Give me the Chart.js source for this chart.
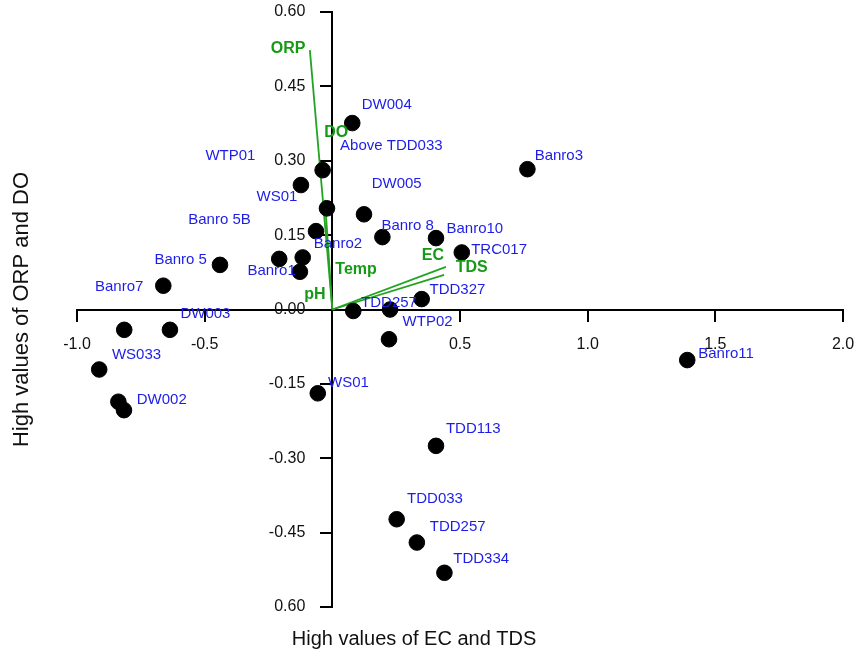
<!DOCTYPE html>
<html>
<head>
<meta charset="utf-8">
<script src="https://cdn.jsdelivr.net/npm/chart.js@4"></script>
<style>
  html, body { margin: 0; padding: 0; background: #fff; }
  #wrap { width: 856px; height: 657px; }
</style>
</head>
<body>
<div id="wrap"><canvas id="myChart" width="856" height="657"></canvas></div>
<script>
// site scores (black dots)
const scoreX = [0.078, -0.038, -0.123, -0.021, 0.124, -0.064, 0.196, 0.406, 0.507, -0.208,
  -0.116, -0.127, -0.440, -0.662, 0.764, 0.350, 0.082, 0.226, 0.222, -0.815,
  -0.636, -0.913, -0.838, -0.816, -0.057, 1.390, 0.406, 0.252, 0.331, 0.439];
const scoreY = [0.376, 0.281, 0.251, 0.204, 0.192, 0.158, 0.146, 0.144, 0.115, 0.102,
  0.105, 0.076, 0.090, 0.048, 0.283, 0.021, -0.003, 0.000, -0.060, -0.041,
  -0.041, -0.121, -0.186, -0.203, -0.169, -0.102, -0.275, -0.423, -0.470, -0.531];

// site labels and where they sit (data units)
const siteNames = ['DW004', 'Above TDD033', 'WTP01', 'DW005', 'WS01', 'Banro 5B', 'Banro2', 'Banro 8',
  'Banro10', 'TRC017', 'Banro 5', 'Banro1', 'Banro7', 'Banro3', 'TDD327', 'TDD257', 'WTP02',
  'DW003', 'WS033', 'DW002', 'WS01', 'Banro11', 'TDD113', 'TDD033', 'TDD257', 'TDD334'];
const siteLabelX = [0.213, 0.231, -0.399, 0.252, -0.217, -0.442, 0.022, 0.295,
  0.558, 0.653, -0.594, -0.238, -0.835, 0.887, 0.490, 0.222, 0.373,
  -0.497, -0.767, -0.668, 0.063, 1.542, 0.552, 0.402, 0.491, 0.583];
const siteLabelY = [0.413, 0.330, 0.310, 0.253, 0.228, 0.181, 0.132, 0.168,
  0.162, 0.120, 0.101, 0.078, 0.045, 0.310, 0.039, 0.013, -0.025,
  -0.009, -0.092, -0.183, -0.147, -0.090, -0.241, -0.381, -0.439, -0.502];

// environmental variables (green vectors from origin)
const varNames = ['ORP', 'DO', 'Temp', 'pH', 'EC', 'TDS'];
const varEndX = [-0.088, -0.029, null, null, 0.445, 0.438];
const varEndY = [0.523, 0.221, null, null, 0.086, 0.070];
const varLabelX = [-0.173, 0.015, 0.093, -0.068, 0.394, 0.546];
const varLabelY = [0.527, 0.357, 0.081, 0.031, 0.109, 0.084];

// axis ticks
const xTicks = [-1.0, -0.5, 0, 0.5, 1.0, 1.5, 2.0];
const xTickText = ['-1.0', '-0.5', '', '0.5', '1.0', '1.5', '2.0'];
const yTicks = [0.60, 0.45, 0.30, 0.15, 0.00, -0.15, -0.30, -0.45, -0.60];
const yTickText = ['0.60', '0.45', '0.30', '0.15', '0.00', '-0.15', '-0.30', '-0.45', '0.60'];

const xTitle = 'High values of EC and TDS';
const yTitle = 'High values of ORP and DO';

const FONT = "'Liberation Sans', Arial, sans-serif";
const BLUE = '#1d1de8';
const GREEN = '#169a16';

function tickText(list, texts, v) {
  const i = list.findIndex(t => Math.abs(t - v) < 1e-6);
  return i < 0 ? '' : texts[i];
}

const datasets = [{
  type: 'scatter',
  data: scoreX.map((x, i) => ({ x: x, y: scoreY[i] })),
  backgroundColor: '#000',
  borderColor: '#000',
  pointRadius: 7.8,
  pointHoverRadius: 7.8
}];

varNames.forEach((name, i) => {
  if (varEndX[i] === null) return;
  datasets.push({
    type: 'line',
    data: [{ x: 0, y: 0 }, { x: varEndX[i], y: varEndY[i] }],
    borderColor: '#22a322',
    borderWidth: 1.8,
    pointRadius: 0,
    fill: false
  });
});

function noPad(s) {
  s.paddingLeft = 0; s.paddingRight = 0; s.paddingTop = 0; s.paddingBottom = 0;
}

// text labels for sites and variables, y tick labels, axis titles
const labelPlugin = {
  id: 'labels',
  afterDatasetsDraw(chart) {
    const ctx = chart.ctx;
    const sx = chart.scales.x, sy = chart.scales.y;
    ctx.save();
    ctx.textAlign = 'center';
    ctx.textBaseline = 'middle';
    ctx.fillStyle = BLUE;
    ctx.font = '15px ' + FONT;
    siteNames.forEach((n, i) => {
      ctx.fillText(n, sx.getPixelForValue(siteLabelX[i]), sy.getPixelForValue(siteLabelY[i]));
    });
    ctx.fillStyle = GREEN;
    ctx.font = 'bold 16px ' + FONT;
    varNames.forEach((n, i) => {
      ctx.fillText(n, sx.getPixelForValue(varLabelX[i]), sy.getPixelForValue(varLabelY[i]));
    });
    ctx.restore();
  },
  afterDraw(chart) {
    const ctx = chart.ctx;
    const a = chart.chartArea;
    const sx = chart.scales.x, sy = chart.scales.y;
    ctx.save();
    ctx.fillStyle = '#111';
    ctx.font = '16px ' + FONT;
    ctx.textAlign = 'right';
    ctx.textBaseline = 'middle';
    const axisX = sx.getPixelForValue(0);
    yTicks.forEach((v, i) => {
      ctx.fillText(yTickText[i], axisX - 27, sy.getPixelForValue(v));
    });
    ctx.font = '20px ' + FONT;
    ctx.textAlign = 'center';
    ctx.fillText(xTitle, a.left + (a.right - a.left) * 0.44, chart.height - 18);
    ctx.font = '22px ' + FONT;
    ctx.translate(22, (a.top + a.bottom) / 2);
    ctx.rotate(-Math.PI / 2);
    ctx.fillText(yTitle, 0, 0);
    ctx.restore();
  }
};

new Chart(document.getElementById('myChart'), {
  data: { datasets: datasets },
  options: {
    responsive: false,
    animation: false,
    layout: { padding: { left: 77, right: 13, top: 12, bottom: 50 } },
    plugins: {
      legend: { display: false },
      tooltip: { enabled: false }
    },
    scales: {
      x: {
        type: 'linear',
        min: -1.0,
        max: 2.0,
        position: { y: 0 },
        afterFit: s => { s.height = 0; noPad(s); },
        afterBuildTicks: s => { s.ticks = xTicks.map(v => ({ value: v })); },
        border: { display: true, color: '#000', width: 2 },
        grid: { drawOnChartArea: false, drawTicks: true, tickLength: 11, color: '#000', lineWidth: 2 },
        ticks: {
          color: '#111',
          font: { family: FONT, size: 16 },
          padding: 14,
          maxRotation: 0,
          autoSkip: false,
          callback: v => tickText(xTicks, xTickText, v)
        }
      },
      y: {
        type: 'linear',
        min: -0.6,
        max: 0.6,
        position: { x: 0 },
        afterFit: s => { s.width = 0; noPad(s); },
        afterBuildTicks: s => { s.ticks = yTicks.map(v => ({ value: v })); },
        border: { display: true, color: '#000', width: 2 },
        grid: { drawOnChartArea: false, drawTicks: true, tickLength: 11, color: '#000', lineWidth: 2 },
        ticks: { display: false }
      }
    }
  },
  plugins: [labelPlugin]
});
</script>
</body>
</html>
